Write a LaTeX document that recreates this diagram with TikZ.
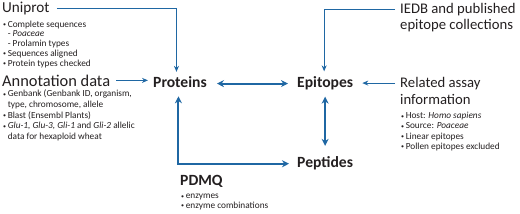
\documentclass[tikz,border=0pt]{standalone}
\usepackage{fontspec}
\setmainfont{Carlito}
\usetikzlibrary{arrows.meta}
\definecolor{arr}{HTML}{1F67A3}
\definecolor{ink}{HTML}{231F20}
\newcommand\bdot{\makebox[4.6pt][l]{\raisebox{0.6pt}{\fontsize{6}{6}\selectfont\textbullet}}}
\begin{document}
\begin{tikzpicture}[x=1pt,y=-1pt,
 head/.style={font=\fontsize{16.4}{18}\selectfont, text=ink, inner sep=0pt, anchor=base west},
 rhead/.style={head, font=\fontsize{14.7}{17}\selectfont},
 key/.style={font=\fontsize{15.6}{18}\selectfont\bfseries, text=ink, inner sep=0pt, anchor=base west},
 blist/.style={text=ink, inner sep=0pt, anchor=north west, align=left},
 feed/.style={draw=arr, line width=1.1pt, -{Stealth[length=6pt,width=5pt]}},
 link/.style={draw=arr, line width=2pt, {Stealth[length=7pt,width=7pt]}-{Stealth[length=7pt,width=7pt]}},
]
\useasboundingbox (0,0) rectangle (520,214);
% headings
\node[head, font=\fontsize{15.2}{18}\selectfont] (uni) at (2,12.5) {Uniprot};
\node[head] (ann) at (2,86) {Annotation data};
\node[rhead] (iedb) at (400,13.5) {IEDB and published};
\node[rhead] (iedb2) at (400,30) {epitope collections};
\node[rhead] (rel) at (400,87) {Related assay};
\node[rhead] (rel2) at (400,104) {information};
% key nodes
\node[key] (prot) at (153,87) {Proteins};
\node[key] (epi) at (297,87) {Epitopes};
\node[key] (pep) at (297,167) {Peptides};
\node[key] (pdmq) at (180,185.5) {PDMQ};
% lists
\node[blist, font=\fontsize{9.3}{9.8}\selectfont] (unil) at (3,20.5) {%
\bdot Complete sequences\\
\hspace*{4.6pt}- \textit{Poaceae}\\
\hspace*{4.6pt}- Prolamin types\\
\bdot Sequences aligned\\
\bdot Protein types checked};
\node[blist, font=\fontsize{9.3}{10.6}\selectfont] (annl) at (3,90) {%
\bdot Genbank (Genbank ID, organism,\\
\hspace*{4.6pt}type, chromosome, allele\\
\bdot Blast (Ensembl Plants)\\
\bdot \textit{Glu-1, Glu-3, Gli-1} and \textit{Gli-2} allelic\\
\hspace*{4.6pt}data for hexaploid wheat};
\node[blist, font=\fontsize{9.3}{10.3}\selectfont] (rell) at (401,112) {%
\bdot Host: \textit{Homo sapiens}\\
\bdot Source: \textit{Poaceae}\\
\bdot Linear epitopes\\
\bdot Pollen epitopes excluded};
\node[blist, font=\fontsize{9.3}{9.8}\selectfont] (pdmql) at (181,194) {%
\bdot enzymes\\
\bdot enzyme combinations};
% connectors
\draw[feed, shorten >=4pt] ([xshift=7pt]uni.east) -| ([xshift=-3.5pt]prot.north);
\draw[feed] ([xshift=6pt]ann.east) -- ([xshift=-5pt]ann.east -| prot.west);
\draw[feed] ([xshift=-5pt]iedb.west) -| ([xshift=-1pt,yshift=4.5pt]epi.north);
\draw[feed] ([xshift=-5pt]rel.west) -- ([xshift=9pt]rel.west -| epi.east);
\draw[link] ([xshift=10pt,yshift=-2pt]prot.east) -- ([xshift=-9pt,yshift=-2pt]prot.east -| epi.west);
\draw[link] ([xshift=-1.5pt,yshift=-9pt]prot.south) |- ([xshift=-8pt,yshift=-1pt]pep.west);
\draw[link] ([yshift=-7pt]epi.south) -- ([yshift=10pt]epi.south |- pep.north);
\end{tikzpicture}
\end{document}
